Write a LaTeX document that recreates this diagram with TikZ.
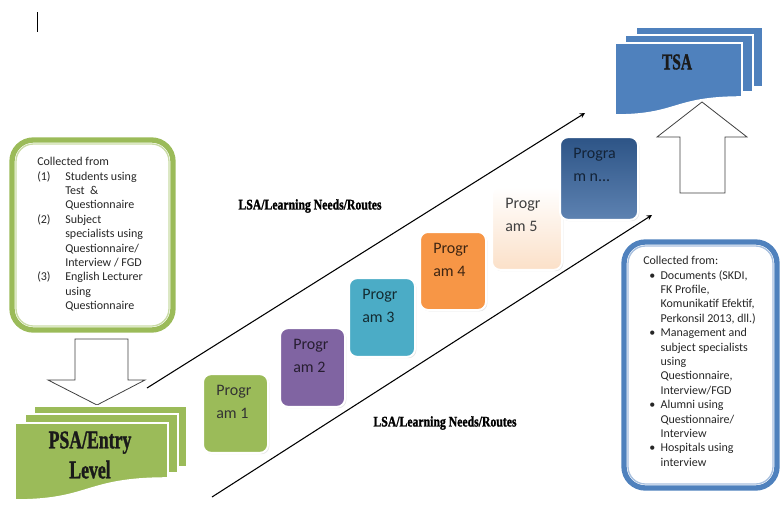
\documentclass[tikz,border=0pt]{standalone}
\usepackage{fontspec}
\setmainfont{Carlito}
\newfontfamily\headfont[FakeBold=1.6]{Liberation Serif}
\usepackage{tikz}
\usetikzlibrary{arrows,shadows}
\definecolor{mygreen}{HTML}{9BBB59}
\definecolor{mylightgreen}{HTML}{C9DBA5}
\definecolor{mypurple}{HTML}{8064A2}
\definecolor{myteal}{HTML}{4BACC6}
\definecolor{myorange}{HTML}{F79646}
\definecolor{mypeach}{HTML}{FBE0C8}
\definecolor{mynavy}{HTML}{35639E}
\definecolor{myblue}{HTML}{4F81BD}
\definecolor{mylightblue}{HTML}{A7BFDE}
\definecolor{mydark}{HTML}{1A1A1A}
\tikzstyle{arrow} = [line width=0.8pt,->,>=stealth]
\tikzstyle{blockarrow} = [draw=black!75, fill=white, line width=0.6pt]
\tikzstyle{prog} = [rectangle, rounded corners=6pt, draw=white, line width=1.5pt, drop shadow={opacity=0.2,shadow xshift=1pt,shadow yshift=-1pt}]
\tikzstyle{progtext} = [anchor=north west, align=left, inner sep=0pt, font=\fontsize{12}{17}\selectfont]
\tikzstyle{head} = [align=center, text=mydark, inner sep=0pt]
\tikzstyle{route} = [inner sep=0pt, text=black, font=\headfont\bfseries\fontsize{11}{12}\selectfont]
\tikzstyle{page} = [draw=white, line width=1.2pt]
\tikzstyle{note} = [anchor=north west, align=left, inner sep=0pt, text=black!85, font=\fontsize{9}{10.8}\selectfont]
% one sheet of a document stack: x0, y0, x1, y left, y right, colour
\newcommand{\docpage}[6]{%
  \filldraw[page, fill=#6] (#1,#2) -- (#3,#2) -- (#3,#5)
    .. controls ({#1+0.45*(#3-#1)},#5) and ({#1+0.5*(#3-#1)},#4) .. (#1,#4) -- cycle;}

\begin{document}
\begin{tikzpicture}[x=0.75pt,y=-0.75pt]
        \useasboundingbox (0,0) rectangle (781,515);
        \draw[line width=0.7pt] (37,12) -- (37,32);
        % Sources (left)
        \draw[mygreen, line width=4pt, rounded corners=16pt] (12,140) rectangle (173,330);
        \draw[mylightgreen, line width=1pt, rounded corners=13pt] (16,144) rectangle (169,326);
        \node[note] (srctext) at (37,157) {Collected from\\
          \begin{tabular}[t]{@{}p{21pt}@{}l@{}}
          (1) & Students using\\
              & Test \ \&\\
              & Questionnaire\\
          (2) & Subject\\
              & specialists using\\
              & Questionnaire/\\
              & Interview / FGD\\
          (3) & English Lecturer\\
              & using\\
              & Questionnaire
          \end{tabular}};
        \draw[blockarrow] (75,339) -- (128,339) -- (128,380) -- (145,380) -- (97,405)
          -- (48,380) -- (75,380) -- cycle;
        % PSA stack
        \docpage{34}{406}{187}{467}{467}{mygreen}
        \docpage{25}{414}{178}{473}{473}{mygreen}
        \docpage{15}{423}{168}{500}{478}{mygreen}
        \node[head, font=\headfont\bfseries\fontsize{19}{22.5}\selectfont] (psa) at (90,455)
          {\scalebox{0.7}[1]{PSA/Entry}\\\scalebox{0.7}[1]{Level}};
        % Routes
        \coordinate (u0) at (147,388);
        \coordinate (u1) at (585,113);
        \coordinate (l0) at (212,497);
        \coordinate (l1) at (652,215);
        \draw[arrow] (u0) -- (u1);
        \draw[arrow] (l0) -- (l1);
        \node[route] (r1) at (310,206) {\scalebox{0.8}[1]{LSA/Learning Needs/Routes}};
        \node[route] (r2) at (445,423) {\scalebox{0.8}[1]{LSA/Learning Needs/Routes}};
        % Programs
        \node[prog, fill=mygreen, minimum width=48.75pt, minimum height=59pt] (p1) at (235.5,413.5) {};
        \node[prog, fill=mypurple, minimum width=48.75pt, minimum height=59pt] (p2) at (312.5,367.5) {};
        \node[prog, fill=myteal, minimum width=49.5pt, minimum height=59pt] (p3) at (382,317.5) {};
        \node[prog, fill=myorange, minimum width=49.5pt, minimum height=58.5pt] (p4) at (453,271) {};
        \node[prog, top color=white, bottom color=mypeach, minimum width=52.5pt, minimum height=62pt] (p5) at (527,228.5) {};
        \node[prog, top color=mynavy!85!black, bottom color=mynavy!80!white, minimum width=58.5pt, minimum height=62pt] (pn) at (599,178.5) {};
        \node[progtext, text=black!80] (t1) at ([shift={(14,12)}]p1.north west) {Progr\\am 1};
        \node[progtext, text=mypurple!30!black] (t2) at ([shift={(14,12)}]p2.north west) {Progr\\am 2};
        \node[progtext, text=myteal!25!black] (t3) at ([shift={(14,12)}]p3.north west) {Progr\\am 3};
        \node[progtext, text=myorange!25!black] (t4) at ([shift={(14,12)}]p4.north west) {Progr\\am 4};
        \node[progtext, text=black!75] (t5) at ([shift={(14,12)}]p5.north west) {Progr\\am 5};
        \node[progtext, text=mynavy!35!black] (tn) at ([shift={(14,12)}]pn.north west) {Progra\\m n...};
        % TSA stack
        \docpage{636}{27}{763}{87}{87}{myblue}
        \docpage{625}{35}{753}{92}{92}{myblue}
        \docpage{615}{43}{742}{115}{97}{myblue}
        \node[head, font=\headfont\bfseries\fontsize{17}{20}\selectfont] (tsa) at (677,62) {\scalebox{0.68}[1]{TSA}};
        \draw[blockarrow] (680,193) -- (725,193) -- (725,137) -- (747,137) -- (702,102)
          -- (657,137) -- (680,137) -- cycle;
        % Sources (right)
        \draw[myblue, line width=4pt, rounded corners=16pt] (624,242) rectangle (777,488);
        \draw[mylightblue, line width=1pt, rounded corners=13pt] (628,246) rectangle (773,484);
        \node[note] (tsatext) at (643,256) {Collected from:\\
          \begin{tabular}[t]{@{\hspace{4.5pt}}l@{\hspace{4pt}}l@{}}
          \textbullet & Documents (SKDI,\\
                      & FK Profile,\\
                      & Komunikatif Efektif,\\
                      & Perkonsil 2013, dll.)\\
          \textbullet & Management and\\
                      & subject specialists\\
                      & using\\
                      & Questionnaire,\\
                      & Interview/FGD\\
          \textbullet & Alumni using\\
                      & Questionnaire/\\
                      & Interview\\
          \textbullet & Hospitals using\\
                      & interview
          \end{tabular}};
\end{tikzpicture}
\end{document}
